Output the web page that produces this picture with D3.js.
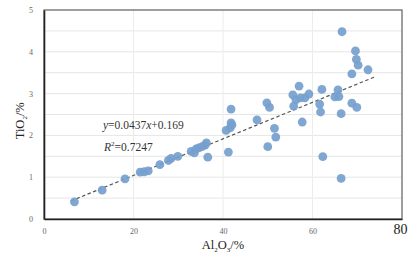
<!DOCTYPE html>
<html>
<head>
<meta charset="utf-8">
<script src="https://cdn.jsdelivr.net/npm/d3@7"></script>
<style>
  html, body { margin: 0; padding: 0; background: #fff; }
  svg text { font-family: "Liberation Serif", "DejaVu Serif", serif; }
</style>
</head>
<body>
<div id="chart"></div>
<script>
// Al2O3 (%) vs TiO2 (%) samples
const al2o3 = [6.8, 13.0, 18.1, 21.5, 22.4, 23.3, 25.9, 27.8, 28.4, 29.9,
  32.9, 33.6, 34.0, 34.6, 35.3, 36.0, 36.6, 36.3, 41.2, 40.7,
  41.6, 42.0, 41.8, 41.8, 47.6, 49.8, 50.4, 51.5, 51.8, 50.0,
  57.0, 55.6, 56.3, 57.3, 58.3, 59.2, 55.8, 57.7, 62.1, 61.6,
  61.8, 65.0, 65.9, 65.7, 66.4, 68.8, 69.9, 62.3, 66.4, 66.6,
  69.6, 69.8, 70.2, 68.8, 72.4];
const tio2 = [0.41, 0.69, 0.96, 1.12, 1.13, 1.15, 1.30, 1.40, 1.45, 1.50,
  1.62, 1.58, 1.68, 1.70, 1.73, 1.77, 1.48, 1.82, 1.60, 2.12,
  2.18, 2.25, 2.30, 2.63, 2.37, 2.78, 2.67, 2.17, 1.96, 1.73,
  3.18, 2.97, 2.85, 2.90, 2.90, 2.99, 2.70, 2.32, 3.10, 2.75,
  2.56, 2.92, 2.93, 3.09, 2.52, 2.77, 2.67, 1.49, 0.97, 4.48,
  4.02, 3.82, 3.68, 3.47, 3.57];

const xTicks = [0, 20, 40, 60, 80];
const yTicks = [0, 1, 2, 3, 4, 5];
const yGrid = [0.5, 1, 1.5, 2, 2.5, 3, 3.5, 4, 4.5];

// fitted line y = 0.0437x + 0.169
const fitSlope = 0.0437, fitIntercept = 0.169;
const fitRange = [6, 74];

const W = 416, H = 257;
const margin = { top: 10, right: 14, bottom: 38, left: 44 };
const w = W - margin.left - margin.right;
const h = H - margin.top - margin.bottom;

const svg = d3.select('#chart').append('svg')
  .attr('width', W).attr('height', H);
const g = svg.append('g')
  .attr('transform', `translate(${margin.left},${margin.top})`);

const x = d3.scaleLinear().domain([0, 80]).range([0, w]);
const y = d3.scaleLinear().domain([0, 5]).range([h, 0]);

// grid
g.append('g').selectAll('line').data(yGrid).join('line')
  .attr('x1', 0).attr('x2', w)
  .attr('y1', d => y(d)).attr('y2', d => y(d))
  .attr('stroke', '#e6e6e6').attr('stroke-width', 1);
g.append('g').selectAll('line').data(xTicks.slice(1, -1)).join('line')
  .attr('x1', d => x(d)).attr('x2', d => x(d))
  .attr('y1', 0).attr('y2', h)
  .attr('stroke', '#ececec').attr('stroke-width', 1);

// frame
g.append('rect').attr('width', w).attr('height', h)
  .attr('fill', 'none').attr('stroke', '#6b6b6b').attr('stroke-width', 1.3);

// axes
const xAxis = g.append('g')
  .attr('transform', `translate(0,${h})`)
  .call(d3.axisBottom(x).tickValues(xTicks).tickFormat(d3.format('d'))
    .tickSize(0).tickPadding(9));
const yAxis = g.append('g')
  .call(d3.axisLeft(y).tickValues(yTicks).tickFormat(d3.format('d'))
    .tickSize(0).tickPadding(11));
[xAxis, yAxis].forEach(a => {
  a.select('.domain').attr('stroke', '#222').attr('stroke-width', 1.6);
  a.selectAll('text').attr('font-size', 8).attr('fill', '#666')
    .attr('font-family', '"Liberation Serif", serif');
});
xAxis.selectAll('.tick').filter(d => d === 80).select('text')
  .attr('font-size', 14).attr('fill', '#222').attr('dy', '0.45em').attr('dx', '-2');

// trend line
g.append('line')
  .attr('x1', x(fitRange[0])).attr('y1', y(fitSlope * fitRange[0] + fitIntercept))
  .attr('x2', x(fitRange[1])).attr('y2', y(fitSlope * fitRange[1] + fitIntercept))
  .attr('stroke', '#555').attr('stroke-width', 1.2)
  .attr('stroke-dasharray', '3.5,2.5');

// points
g.append('g').selectAll('circle').data(al2o3.map((v, i) => [v, tio2[i]])).join('circle')
  .attr('cx', d => x(d[0])).attr('cy', d => y(d[1]))
  .attr('r', 4.4)
  .attr('fill', '#759fcd').attr('fill-opacity', 0.92);

// equation
const eq = g.append('text').attr('x', 59).attr('y', 119)
  .attr('font-size', 11.5).attr('fill', '#333');
eq.append('tspan').attr('font-style', 'italic').text('y');
eq.append('tspan').text('=0.0437');
eq.append('tspan').attr('font-style', 'italic').text('x');
eq.append('tspan').text('+0.169');

const r2 = g.append('text').attr('x', 60).attr('y', 141)
  .attr('font-size', 11.5).attr('fill', '#333');
r2.append('tspan').attr('font-style', 'italic').text('R');
r2.append('tspan').attr('font-size', 7).attr('dy', -5).text('2');
r2.append('tspan').attr('dy', 5).text('=0.7247');

// axis titles
const xt = svg.append('text')
  .attr('x', margin.left + x(40)).attr('y', 249)
  .attr('text-anchor', 'middle').attr('font-size', 12.5).attr('fill', '#222');
xt.append('tspan').text('Al');
xt.append('tspan').attr('font-size', 7).attr('dy', 3).text('2');
xt.append('tspan').attr('dy', -3).text('O');
xt.append('tspan').attr('font-size', 7).attr('dy', 3).text('3');
xt.append('tspan').attr('dy', -3).text('/%');

const yt = svg.append('text')
  .attr('transform', `translate(24,${margin.top + y(2.35)}) rotate(-90)`)
  .attr('text-anchor', 'middle').attr('font-size', 12.5).attr('fill', '#222');
yt.append('tspan').text('TiO');
yt.append('tspan').attr('font-size', 7).attr('dy', 3).text('2');
yt.append('tspan').attr('dy', -3).text('/%');
</script>
</body>
</html>
